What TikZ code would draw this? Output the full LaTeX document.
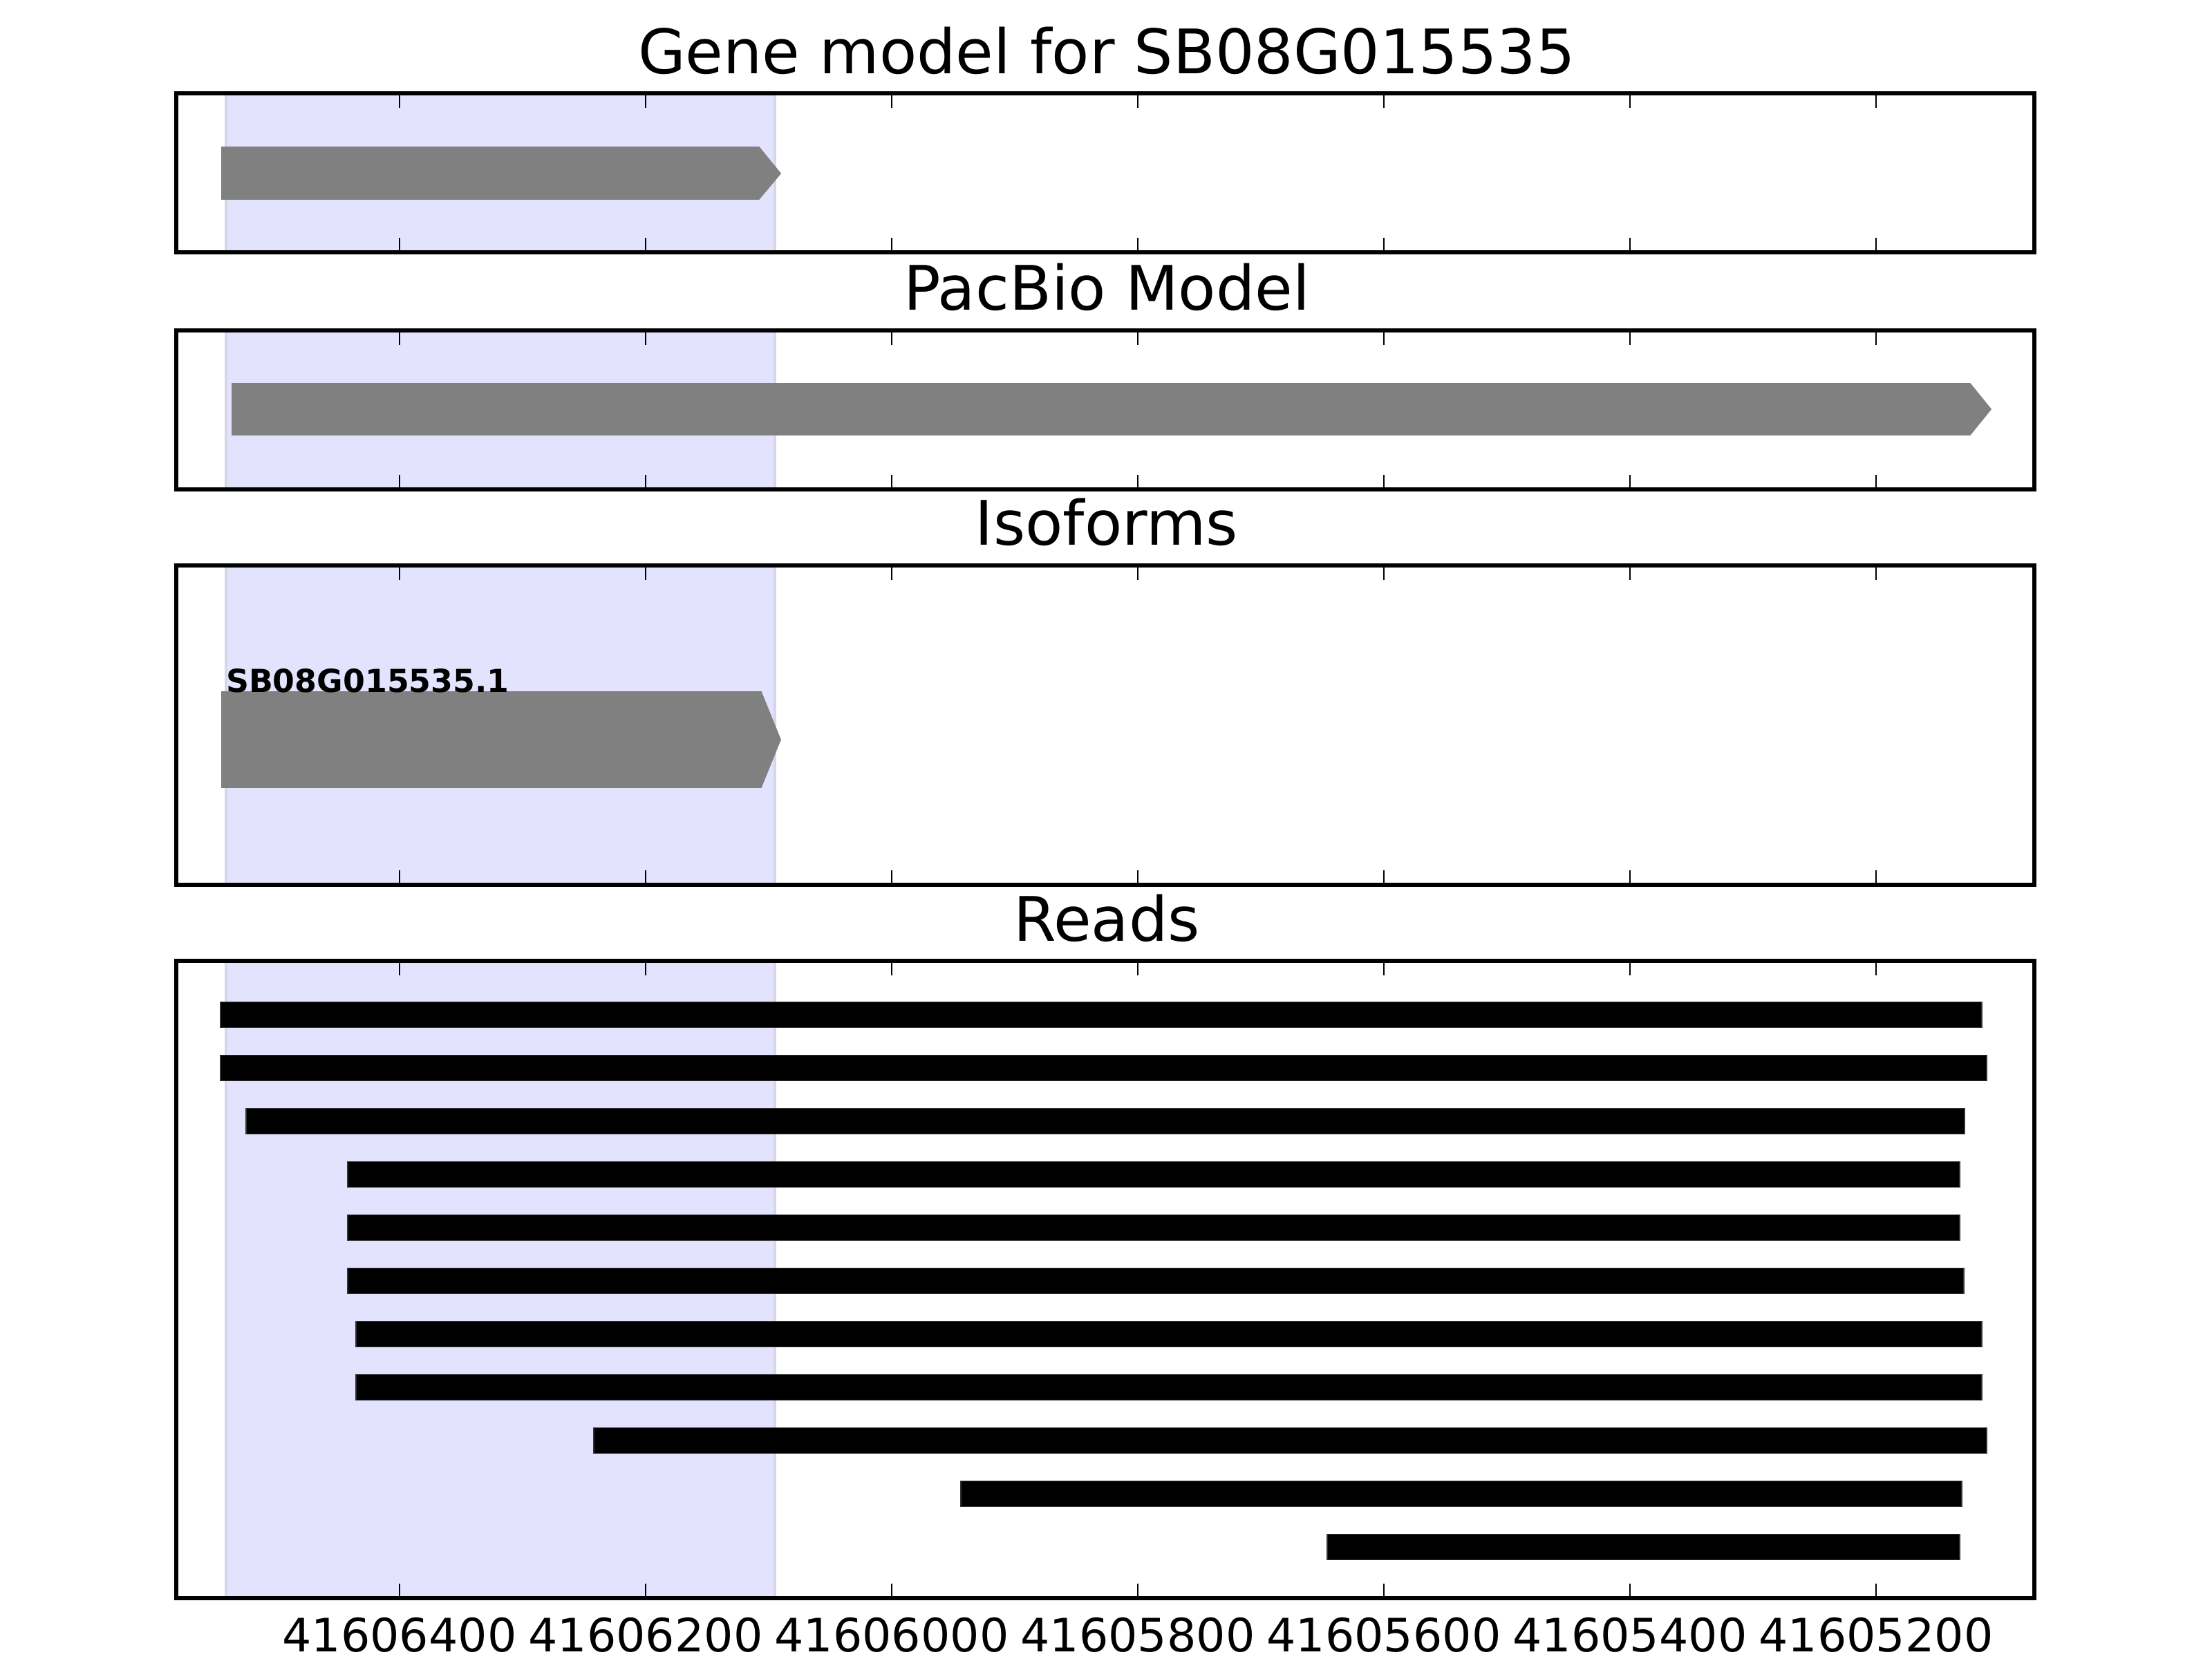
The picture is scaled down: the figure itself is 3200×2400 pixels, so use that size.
\documentclass[tikz,border=0pt]{standalone}
\usepackage{fontspec}
\setmainfont{DejaVu Sans}
\definecolor{spanfill}{RGB}{227,227,253}
\definecolor{spanedge}{RGB}{214,214,234}
\definecolor{genegray}{RGB}{128,128,128}
\begin{document}
\begin{tikzpicture}[x=0.0025in,y=-0.0025in,
  frame/.style={draw=black,line width=1bp},
  tickmark/.style={draw=black,line width=0.5bp},
  shadebox/.style={fill=spanfill,draw=spanedge,line width=0.6bp},
  genearrow/.style={fill=genegray,draw=genegray,line width=0.3bp},
  readbar/.style={fill=black,draw=black!80,line width=0.3bp},
  paneltitle/.style={font=\fontsize{16bp}{19bp}\selectfont,anchor=base,inner sep=0pt},
  ticklabel/.style={font=\fontsize{12bp}{14bp}\selectfont,anchor=base,inner sep=0pt},
  isolabel/.style={font=\fontsize{8.25bp}{10bp}\selectfont\bfseries,anchor=base west,inner sep=0pt}]
\useasboundingbox[fill=white] (0,0) rectangle (3200,2400);

% highlighted span in every panel
\foreach \t/\b in {135/365,478/708,818/1280,1390/2312}
  \filldraw[shadebox] (327,\t) rectangle (1121,\b);

% gene model
\filldraw[genearrow] (321,213) -- (1098,213) -- (1129,251) -- (1098,288) -- (321,288) -- cycle;
% PacBio model
\filldraw[genearrow] (336,555) -- (2850,555) -- (2880,592) -- (2850,629) -- (336,629) -- cycle;
% isoform
\filldraw[genearrow] (321,1001) -- (1101,1001) -- (1129,1070) -- (1101,1139) -- (321,1139) -- cycle;
\node[isolabel] (iso1) at (326,1002) {SB08G015535.1};

% reads
\foreach \l/\r [count=\i from 0] in {319/2867,319/2874,356/2842,503/2835,503/2835,503/2841,515/2867,515/2867,859/2874,1390/2838,1920/2835}
  \filldraw[readbar] (\l,{1468+77*\i-18.5}) rectangle (\r,{1468+77*\i+18.5});

% ticks and frames
\foreach \t/\b in {135/365,478/708,818/1280,1390/2312}{
  \foreach \k in {0,...,6}{
    \draw[tickmark] ({578+356*\k},\t) -- ++(0,21);
    \draw[tickmark] ({578+356*\k},\b) -- ++(0,-21);
  }
  \draw[frame] (255,\t) rectangle (2943,\b);
}

% titles
\node[paneltitle] (t1) at (1601,107) {Gene model for SB08G015535};
\node[paneltitle] (t2) at (1601,449) {PacBio Model};
\node[paneltitle] (t3) at (1601,789) {Isoforms};
\node[paneltitle] (t4) at (1601,1361) {Reads};

% tick labels
\foreach \lab [count=\k from 0] in {41606400,41606200,41606000,41605800,41605600,41605400,41605200}
  \node[ticklabel] (tl\k) at ({578+356*\k},2389) {\lab};
\end{tikzpicture}
\end{document}
